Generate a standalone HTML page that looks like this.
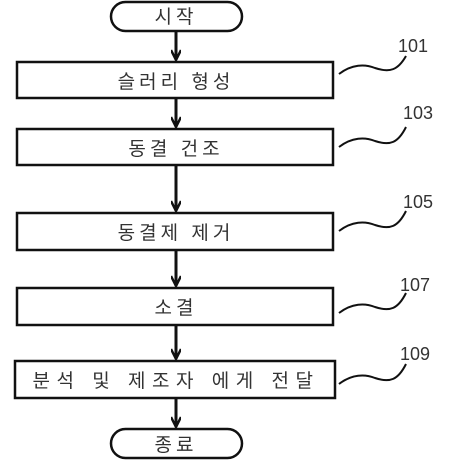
<!DOCTYPE html>
<html><head><meta charset="utf-8"><style>
body{margin:0;background:#fff}
svg{display:block}
text{font-family:"Liberation Sans","Noto Sans CJK KR",sans-serif;fill:#333}
</style></head><body>
<svg width="460" height="460" viewBox="0 0 460 460">
<defs><marker id="a" markerWidth="14" markerHeight="10" refX="11" refY="5" orient="auto" markerUnits="userSpaceOnUse">
<path d="M1 0 L11 5 L1 10" fill="none" stroke="#111" stroke-width="2.5"/></marker></defs>
<g fill="#fff" stroke="#111" stroke-width="2.5">
<rect x="111" y="2" width="131" height="29" rx="14.5"/>
<rect x="17" y="62" width="316" height="36"/>
<rect x="17" y="129" width="316" height="36"/>
<rect x="17" y="213" width="316" height="37"/>
<rect x="17" y="288" width="316" height="37"/>
<rect x="15" y="361" width="320" height="37"/>
<rect x="111" y="429" width="131" height="29" rx="14.5"/>
</g>
<g stroke="#111" stroke-width="3" marker-end="url(#a)">
<line x1="176" y1="31" x2="176" y2="60"/>
<line x1="176" y1="98" x2="176" y2="127"/>
<line x1="176" y1="165" x2="176" y2="211"/>
<line x1="176" y1="250" x2="176" y2="286"/>
<line x1="176" y1="325" x2="176" y2="359"/>
<line x1="176" y1="398" x2="176" y2="427"/>
</g>
<g fill="none" stroke="#111" stroke-width="2">
<path d="M339 74 C352 64 365 64 375 68 C390 73 398 70 406 56"/>
<path d="M339 147 C352 137 365 137 375 141 C390 146 398 143 406 127"/>
<path d="M339 231 C352 221 365 221 375 225 C390 230 398 227 406 211"/>
<path d="M339 313 C352 303 365 303 375 307 C390 312 398 309 406 293"/>
<path d="M339 384 C352 374 365 374 375 378 C390 383 398 380 406 364"/>
</g>
<g font-size="18" text-anchor="middle">
<text x="413" y="52">101</text>
<text x="418" y="119">103</text>
<text x="418" y="208">105</text>
<text x="415" y="291">107</text>
<text x="415" y="360">109</text>
</g>
<g font-size="19" text-anchor="middle" letter-spacing="4">
<text x="176" y="23">시작</text>
<text x="176" y="88">슬러리  형성</text>
<text x="176" y="155">동결 건조</text>
<text x="176" y="239">동결제 제거</text>
<text x="176" y="314">소결</text>
<text x="176" y="387" letter-spacing="6.5">분석 및 제조자 에게 전달</text>
<text x="176" y="451">종료</text>
</g>
</svg>
</body></html>
